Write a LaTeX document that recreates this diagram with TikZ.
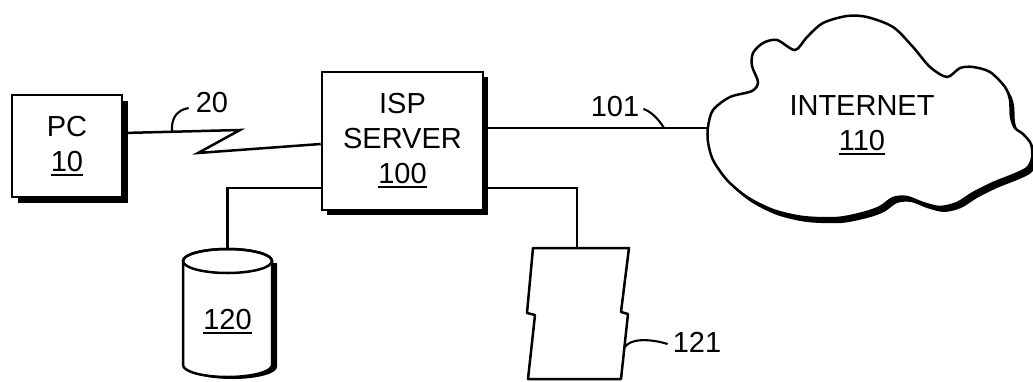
\documentclass[tikz,border=0pt]{standalone}
\usepackage{fontspec}
\setmainfont{Liberation Sans}
\usetikzlibrary{shadows}
\newcommand\refnum[1]{\setbox0\hbox{#1}\rlap{\rule[-4.5pt]{\wd0}{2pt}}\box0}

\begin{document}
\begin{tikzpicture}[x=1pt, y=-1pt,
            font=\fontsize{29}{35}\selectfont,
            unit/.style={draw, line width=2.6pt, fill=white, align=center, inner sep=0pt},
            link/.style={line width=2.5pt},
            lead/.style={line width=2.1pt},
            tag/.style={inner sep=1pt, align=center}
        ]
            \useasboundingbox (0,0) rectangle (1033,381);

            \node[unit, minimum width=110pt, minimum height=102pt,
                drop shadow={fill=black, opacity=1, shadow xshift=6pt, shadow yshift=-6pt}]
                (pc) at (67,146) {PC\\\refnum{10}};
            \node[unit, minimum width=161pt, minimum height=138pt,
                drop shadow={fill=black, opacity=1, shadow xshift=5pt, shadow yshift=-5pt}]
                (isp) at (402.5,141) {ISP\\SERVER\\\refnum{100}};

            \begin{scope}[shift={(4,5)}]
                \fill plot[smooth cycle] coordinates {(708,127) (713,110) (730,97) (752,91) (758,82) (752,66) (753,53) (763,43) (777,40) (795,50) (807,37) (823,23) (847,16) (867,17) (893,27) (913,47) (930,67) (947,77) (960,68) (973,67) (990,72) (1005,87) (1010,100) (1011,117) (1015,128) (1023,134) (1031,144) (1032,158) (1027,168) (1013,175) (993,183) (973,193) (957,203) (940,207) (923,203) (907,197) (893,198) (880,207) (863,213) (837,218) (803,217) (773,210) (747,197) (727,180) (713,160) (708,142)};
            \end{scope}
            \draw[link, fill=white] plot[smooth cycle] coordinates {(708,127) (713,110) (730,97) (752,91) (758,82) (752,66) (753,53) (763,43) (777,40) (795,50) (807,37) (823,23) (847,16) (867,17) (893,27) (913,47) (930,67) (947,77) (960,68) (973,67) (990,72) (1005,87) (1010,100) (1011,117) (1015,128) (1023,134) (1031,144) (1032,158) (1027,168) (1013,175) (993,183) (973,193) (957,203) (940,207) (923,203) (907,197) (893,198) (880,207) (863,213) (837,218) (803,217) (773,210) (747,197) (727,180) (713,160) (708,142)};
            \node[tag] (inet) at (862,125) {INTERNET\\\refnum{110}};
            \coordinate (inetw) at (708,128);

            \begin{scope}[shift={(5,2)}]
                \fill (183,261) -- (183,365) arc[start angle=180, end angle=360, x radius=44.5pt, y radius=12pt] -- (272,261) -- cycle;
            \end{scope}
            \filldraw[link, fill=white] (183,261) -- (183,365) arc[start angle=180, end angle=360, x radius=44.5pt, y radius=12pt]
                -- (272,261) arc[start angle=0, end angle=180, x radius=44.5pt, y radius=12pt] -- cycle;
            \draw[link] (227.5,261) ellipse[x radius=44.5pt, y radius=12pt];
            \node[tag] (db) at (227.5,322) {\refnum{120}};
            \coordinate (dbtop) at (227.5,249);

            \draw[link, fill=white, line join=round] (533,248) -- (527,313) -- (535,315) -- (528,379)
                -- (621,379) -- (628,314) -- (621,312) -- (629,248) -- cycle;
            \coordinate (doctop) at (577,248);

            \coordinate (zz1) at (240,130);
            \coordinate (zz2) at (198,153);
            \draw[link, line join=miter] ([yshift=13pt]pc.east) -- (zz1) -- (zz2) -- ([yshift=-3pt]isp.west);
            \draw[link] ([yshift=13pt]isp.east) -- (inetw);
            \draw[link] ([yshift=-47pt]isp.west) -| (dbtop);
            \draw[link] ([yshift=-47pt]isp.east) -| (doctop);

            \node[tag] (l20) at (212,103) {20};
            \node[tag] (l101) at (615,107) {101};
            \node[tag] (l121) at (697,342) {121};
            \coordinate (c20) at (172,131.5);
            \coordinate (c101) at (664,128);
            \coordinate (c121) at (625,347);
            \draw[lead] (c20) .. controls (171,118) and (177,110) .. ([xshift=-6pt,yshift=-5pt]l20.west);
            \draw[lead] ([xshift=3pt,yshift=-2pt]l101.east) .. controls (650,111) and (658,118) .. (c101);
            \draw[lead] (c121) .. controls (630,339) and (648,338) .. ([xshift=-4pt,yshift=-2pt]l121.west);
        \end{tikzpicture}
\end{document}
